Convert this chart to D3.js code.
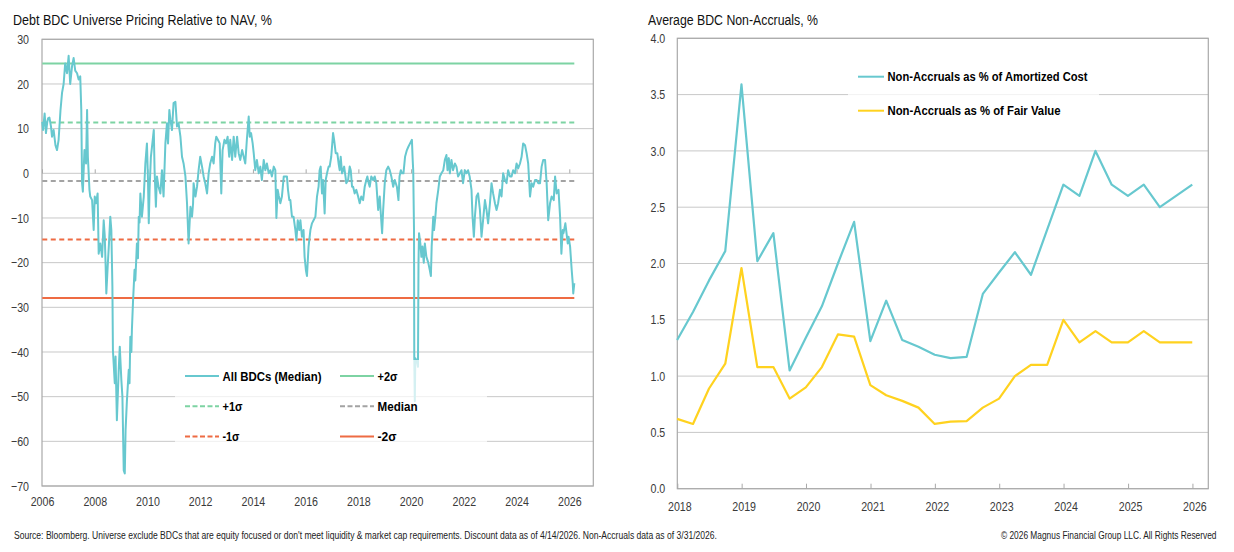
<!DOCTYPE html>
<html><head><meta charset="utf-8">
<script src="https://cdn.jsdelivr.net/npm/d3@7"></script>
<style>
body{margin:0;background:#fff}
svg{display:block}
text{font-family:"Liberation Sans",Arial,sans-serif}
</style>
</head><body>
<svg id="c" width="1234" height="552"></svg>
<script>
// ---------- Left chart data (decimal year, % premium/discount to NAV) ----------
const navDates = [2006.01,2006.04,2006.10,2006.15,2006.20,2006.23,2006.28,2006.34,2006.38,2006.44,2006.51,2006.57,2006.63,2006.70,2006.76,2006.82,2006.88,2006.95,2007.01,2007.07,2007.14,2007.20,2007.26,2007.33,2007.39,2007.45,2007.49,2007.52,2007.55,2007.61,2007.67,2007.71,2007.74,2007.80,2007.83,2007.90,2007.96,2008.00,2008.05,2008.11,2008.15,2008.21,2008.28,2008.34,2008.38,2008.41,2008.44,2008.49,2008.54,2008.59,2008.63,2008.67,2008.69,2008.76,2008.79,2008.84,2008.91,2008.95,2009.01,2009.05,2009.10,2009.14,2009.17,2009.22,2009.29,2009.32,2009.35,2009.39,2009.41,2009.45,2009.51,2009.54,2009.60,2009.64,2009.67,2009.70,2009.73,2009.79,2009.86,2009.92,2009.98,2010.02,2010.05,2010.08,2010.13,2010.20,2010.24,2010.27,2010.32,2010.36,2010.42,2010.49,2010.55,2010.61,2010.68,2010.74,2010.78,2010.83,2010.87,2010.93,2010.99,2011.06,2011.12,2011.18,2011.25,2011.31,2011.37,2011.44,2011.50,2011.56,2011.63,2011.69,2011.73,2011.75,2011.82,2011.88,2011.94,2012.00,2012.07,2012.13,2012.19,2012.26,2012.32,2012.38,2012.45,2012.51,2012.57,2012.61,2012.67,2012.74,2012.80,2012.85,2012.92,2012.98,2013.04,2013.10,2013.14,2013.21,2013.27,2013.33,2013.40,2013.46,2013.52,2013.59,2013.65,2013.71,2013.77,2013.84,2013.88,2013.93,2013.99,2014.03,2014.09,2014.15,2014.22,2014.28,2014.34,2014.41,2014.47,2014.53,2014.60,2014.66,2014.72,2014.79,2014.85,2014.89,2014.94,2014.98,2015.04,2015.10,2015.17,2015.23,2015.29,2015.33,2015.38,2015.42,2015.48,2015.54,2015.61,2015.65,2015.70,2015.76,2015.80,2015.86,2015.92,2015.96,2016.01,2016.05,2016.11,2016.18,2016.24,2016.30,2016.37,2016.43,2016.49,2016.53,2016.57,2016.62,2016.66,2016.72,2016.76,2016.81,2016.87,2016.91,2016.97,2017.04,2017.08,2017.14,2017.20,2017.25,2017.29,2017.33,2017.38,2017.42,2017.46,2017.51,2017.54,2017.61,2017.67,2017.71,2017.76,2017.80,2017.86,2017.92,2017.99,2018.05,2018.11,2018.18,2018.24,2018.30,2018.34,2018.39,2018.43,2018.49,2018.56,2018.62,2018.68,2018.75,2018.81,2018.85,2018.90,2018.94,2019.00,2019.06,2019.13,2019.19,2019.25,2019.32,2019.38,2019.46,2019.52,2019.56,2019.61,2019.65,2019.71,2019.77,2019.84,2019.90,2019.96,2020.03,2020.06,2020.08,2020.11,2020.12,2020.14,2020.16,2020.22,2020.26,2020.28,2020.30,2020.35,2020.39,2020.43,2020.48,2020.52,2020.58,2020.65,2020.71,2020.75,2020.78,2020.84,2020.87,2020.92,2020.96,2021.03,2021.09,2021.15,2021.22,2021.28,2021.34,2021.38,2021.43,2021.47,2021.53,2021.59,2021.66,2021.72,2021.78,2021.85,2021.91,2021.97,2022.04,2022.10,2022.16,2022.22,2022.29,2022.33,2022.38,2022.42,2022.48,2022.54,2022.61,2022.67,2022.73,2022.80,2022.86,2022.92,2022.99,2023.05,2023.11,2023.18,2023.24,2023.30,2023.37,2023.43,2023.49,2023.56,2023.62,2023.68,2023.75,2023.81,2023.87,2023.94,2024.00,2024.06,2024.13,2024.19,2024.25,2024.32,2024.38,2024.44,2024.51,2024.57,2024.63,2024.70,2024.76,2024.82,2024.89,2024.95,2025.01,2025.08,2025.14,2025.20,2025.27,2025.33,2025.41,2025.46,2025.52,2025.59,2025.65,2025.70,2025.75,2025.78,2025.85,2025.91,2025.94,2025.97,2026.03,2026.09,2026.13,2026.15,2026.19];
const navValues = [11.5,9.7,13.4,9.0,11.5,12.3,12.5,10.5,8.2,9.7,6.3,5.2,7.5,14.0,18.0,20.0,24.6,22.4,26.3,20.0,24.0,25.8,23.0,22.4,21.0,21.7,14.2,-2.2,-4.1,5.2,2.2,14.2,3.7,-3.7,-5.2,-6.0,-12.7,-5.2,-6.7,-4.5,-18.0,-15.7,-18.7,-10.5,-14,-20,-26.9,-21,-15.7,-9.7,-12.7,-25.4,-39.6,-47,-41,-55.3,-44,-38.8,-46.3,-50,-66.5,-67.2,-57.5,-51,-44,-47,-36.6,-40,-35,-29,-21.6,-24,-15.7,-19,-9.7,-11,-4.5,-9.7,-5.2,2.2,6.7,-1.5,-11.2,-3.7,3.7,7.5,9.7,0.7,-7.5,-0.7,-3.0,-4.5,0.7,-5.2,6.7,11.2,6.7,14.2,12.0,9.7,15.7,16.0,10.5,11.2,8.2,3.7,2.2,-0.7,-6.7,-15.7,-7.5,-9.7,-6.7,-2.2,-5.2,-3.0,0.7,3.7,1.5,-0.7,-2.2,-4.5,0.0,2.2,3.7,2.2,6.7,8.2,7.5,6.7,-4.5,5.2,7.5,6.7,8.2,3.7,7.5,3.0,8.2,3.7,8.2,4.5,3.0,5.2,3.7,2.2,7.5,12.7,8.2,9.0,6.7,4.5,0.7,3.0,0.0,1.5,-1.5,3.0,0.7,2.2,0.0,0.7,-0.7,1.5,0.7,-10.0,-3.7,-5.0,-6.7,-5.2,-0.7,-0.7,-0.7,-3.7,-6.0,-6.0,-9.7,-9.7,-12.7,-15.0,-10.5,-12.7,-10.5,-14.2,-12.7,-18.7,-21.7,-23.0,-16.4,-12.7,-11.2,-10.5,-9.7,-5.2,-3.0,0.7,1.5,-4.5,-1.5,-9.0,-1.5,0.0,1.5,1.5,3.7,9.0,7.5,4.5,4.5,2.2,0.7,3.7,0.0,0.7,1.5,-0.7,-2.2,-1.5,1.5,0.7,-3.0,-3.0,-4.5,-3.7,-5.2,-6.7,-5.2,-6.0,-3.0,-1.5,-0.7,-2.2,-3.0,-0.7,-1.5,-0.7,-2.2,-8.2,-5.2,-9.0,-13.4,-8.2,-2.2,0.7,1.5,0.7,-0.7,-3.0,-1.5,-3.0,-6.0,-0.7,0.7,0.0,0.0,3.7,5.2,6.0,6.7,7.5,3.0,0.7,-12.7,-41.4,-51,-41.4,-42,-43.3,-20,-13.4,-15.7,-18.7,-16.4,-20.0,-15.7,-18.7,-20.0,-21.7,-23.0,-16.4,-9.7,-12.7,-9.7,-6.7,-3.7,-0.7,0.0,0.7,3.0,4.1,0.7,3.4,0.0,3.0,0.7,2.2,1.5,-0.7,0.0,0.7,-2.2,0.7,0.0,0.7,-0.7,-3.7,-9.7,-14.2,-9.7,-5.2,-4.5,-8.2,-14.2,-10.5,-6.0,-8.2,-11.2,-6.7,-2.2,-4.5,-6.7,-8.2,-6.7,-3.7,-5.2,0.0,-1.5,-2.2,0.7,-0.7,-0.7,0.7,0.0,2.2,1.1,2.2,3.7,6.7,6.3,4.5,2.2,-5.2,-2.2,-3.0,-1.5,-1.5,-2.2,-2.2,1.5,3.0,3.0,-2.2,-10.5,-6.7,-5.2,-6.0,-0.7,-4.5,-3.7,-9.7,-18.0,-12.7,-13.4,-11.2,-14.2,-15.7,-14.2,-16.4,-21.6,-24.6,-26.9,-24.6];

const bandNames  = ["+2σ", "+1σ", "Median", "-1σ", "-2σ"];
const bandValues = [24.6, 11.4, -1.7, -14.8, -27.9];
const leftYTicks = [30,20,10,0,-10,-20,-30,-40,-50,-60,-70];
const leftXTicks = [2006,2008,2010,2012,2014,2016,2018,2020,2022,2024,2026];

// ---------- Right chart data (quarter ends) ----------
const naDates = ["2017-12-31","2018-03-31","2018-06-30","2018-09-30","2018-12-31","2019-03-31","2019-06-30","2019-09-30","2019-12-31","2020-03-31","2020-06-30","2020-09-30","2020-12-31","2021-03-31","2021-06-30","2021-09-30","2021-12-31","2022-03-31","2022-06-30","2022-09-30","2022-12-31","2023-03-31","2023-06-30","2023-09-30","2023-12-31","2024-03-31","2024-06-30","2024-09-30","2024-12-31","2025-03-31","2025-06-30","2025-09-30","2025-12-31"];
const naCost = [1.32,1.57,1.85,2.11,3.59,2.02,2.27,1.05,1.34,1.62,2.00,2.37,1.31,1.67,1.32,1.26,1.19,1.16,1.17,1.73,1.92,2.10,1.90,2.30,2.70,2.60,3.00,2.70,2.60,2.70,2.50,2.60,2.70];
const naFair = [0.62,0.575,0.89,1.11,1.96,1.08,1.08,0.80,0.90,1.08,1.37,1.35,0.92,0.83,0.78,0.72,0.575,0.595,0.60,0.72,0.80,1.00,1.10,1.10,1.50,1.30,1.40,1.30,1.30,1.40,1.30,1.30,1.30];
const rightYTicks = [0,0.5,1,1.5,2,2.5,3,3.5,4];
const rightXTicks = [2018,2019,2020,2021,2022,2023,2024,2025,2026];

const TEAL = "#67C8CF", GREEN = "#7DD3A3", RED = "#EE6B43", GREY = "#A3A3A3", YELLOW = "#FFD21F";
const GRID = "#C8C8C8", FRAME = "#A9A9A9", LABEL = "#3a3a3a";
const NARROW = 0.82;

const svg = d3.select("#c");

function fitText(g, x, y, str, size, len, weight, anchor) {
  return g.append("text").attr("x", x).attr("y", y).attr("font-size", size)
    .attr("font-weight", weight || "normal").attr("text-anchor", anchor || "start")
    .attr("textLength", len).attr("lengthAdjust", "spacingAndGlyphs").attr("fill", "#111").text(str);
}
function narrowText(g, x, y, str, size, anchor) {
  return g.append("text").attr("transform", `translate(${x},${y}) scale(${NARROW},1)`)
    .attr("font-size", size).attr("text-anchor", anchor || "start").attr("fill", "#222").text(str);
}
function narrowAxisText(sel, size) {
  sel.selectAll("text").each(function () {
    const s = d3.select(this);
    const x = +s.attr("x") || 0, y = +s.attr("y") || 0;
    s.attr("x", null).attr("y", null)
     .attr("transform", `translate(${x},${y}) scale(${NARROW},1)`)
     .attr("font-size", size).attr("fill", LABEL).style("font-family", null);
  });
}

// ================= LEFT =================
const L = {x0:42, x1:593.3, y0:39.3, y1:486};
const xL = d3.scaleLinear().domain([2006, 2026.91]).range([L.x0, L.x1]);
const yL = d3.scaleLinear().domain([-70, 30]).range([L.y1, L.y0]);
const gL = svg.append("g");

fitText(gL, 13, 25, "Debt BDC Universe Pricing Relative to NAV, %", 14, 259);

gL.selectAll("line.grid").data(leftYTicks).join("line")
  .attr("x1", L.x0).attr("x2", L.x1).attr("y1", d => yL(d)).attr("y2", d => yL(d))
  .attr("stroke", GRID).attr("stroke-width", 1);
gL.append("rect").attr("x", L.x0).attr("y", L.y0).attr("width", L.x1 - L.x0).attr("height", L.y1 - L.y0)
  .attr("fill", "none").attr("stroke", FRAME).attr("stroke-width", 1.2);

const yAxL = gL.append("g").attr("transform", `translate(${L.x0},0)`)
  .call(d3.axisLeft(yL).tickValues(leftYTicks).tickSize(0).tickPadding(13));
yAxL.select(".domain").remove();
narrowAxisText(yAxL, 13);

const zAx = gL.append("g").attr("transform", `translate(0,${yL(0)})`)
  .call(d3.axisTop(xL).tickValues(leftXTicks).tickSize(4).tickFormat(""));
zAx.select(".domain").remove();
zAx.selectAll("line").attr("stroke", FRAME);

const xAxL = gL.append("g").attr("transform", `translate(0,${L.y1})`)
  .call(d3.axisBottom(xL).tickValues(leftXTicks).tickSize(0).tickPadding(11).tickFormat(d3.format("d")));
xAxL.select(".domain").remove();
narrowAxisText(xAxL, 13);

const bandColor = [GREEN, GREEN, GREY, RED, RED];
const bandDash  = [null, "5,3.5", "5,3.5", "5,3.5", null];
const xStart = navDates[0], xEnd = navDates[navDates.length - 1];
bandValues.forEach((v, i) => {
  gL.append("line").attr("x1", xL(xStart)).attr("x2", xL(xEnd)).attr("y1", yL(v)).attr("y2", yL(v))
    .attr("stroke", bandColor[i]).attr("stroke-width", 2).attr("stroke-dasharray", bandDash[i]);
});

const navLine = d3.line().x((d, i) => xL(navDates[i])).y(d => yL(d));
gL.append("path").datum(navValues).attr("d", navLine).attr("fill", "none")
  .attr("stroke", TEAL).attr("stroke-width", 2).attr("stroke-linejoin", "round");

gL.append("rect").attr("x", 175).attr("y", 360).attr("width", 312).attr("height", 98)
  .attr("fill", "#fff").attr("opacity", 0.72);
const legL = [
  {name:"All BDCs (Median)", c:TEAL, dash:null, col:0, row:0, w:99},
  {name:bandNames[0], c:GREEN, dash:null, col:1, row:0, w:20},
  {name:bandNames[1], c:GREEN, dash:"5,2.5", col:0, row:1, w:20},
  {name:bandNames[2], c:GREY, dash:"5,2.5", col:1, row:1, w:40},
  {name:bandNames[3], c:RED, dash:"5,2.5", col:0, row:2, w:17},
  {name:bandNames[4], c:RED, dash:null, col:1, row:2, w:19}
];
legL.forEach(d => {
  const lx = d.col === 0 ? 185 : 340, ly = 376 + d.row * 30.3;
  gL.append("line").attr("x1", lx).attr("x2", lx + 34).attr("y1", ly).attr("y2", ly)
    .attr("stroke", d.c).attr("stroke-width", 2).attr("stroke-dasharray", d.dash);
  fitText(gL, lx + 37.5, ly + 4.7, d.name, 13.5, d.w, "bold").attr("fill", "#000");
});

// ================= RIGHT =================
const R = {x0:677.3, x1:1208.3, y0:38.3, y1:488.7};
const xR = d3.scaleUtc().domain([Date.UTC(2018,0,1), Date.UTC(2026,3,1)]).range([R.x0, R.x1]);
const yR = d3.scaleLinear().domain([0, 4]).range([R.y1, R.y0]);
const gR = svg.append("g");
const parse = d3.utcParse("%Y-%m-%d");
const naT = naDates.map(parse);

fitText(gR, 648, 25, "Average BDC Non-Accruals, %", 14, 170);

gR.selectAll("line.grid").data(rightYTicks).join("line")
  .attr("x1", R.x0).attr("x2", R.x1).attr("y1", d => yR(d)).attr("y2", d => yR(d))
  .attr("stroke", GRID).attr("stroke-width", 1);
gR.append("rect").attr("x", R.x0).attr("y", R.y0).attr("width", R.x1 - R.x0).attr("height", R.y1 - R.y0)
  .attr("fill", "none").attr("stroke", FRAME).attr("stroke-width", 1.2);

const yAxR = gR.append("g").attr("transform", `translate(${R.x0},0)`)
  .call(d3.axisLeft(yR).tickValues(rightYTicks).tickSize(0).tickPadding(12).tickFormat(d3.format(".1f")));
yAxR.select(".domain").remove();
narrowAxisText(yAxR, 13);

const yearDates = rightXTicks.map(y => new Date(Date.UTC(y,0,1)));
const xAxR = gR.append("g").attr("transform", `translate(0,${R.y1})`)
  .call(d3.axisTop(xR).tickValues(yearDates).tickSize(5).tickFormat(""));
xAxR.select(".domain").remove();
xAxR.selectAll("line").attr("stroke", FRAME);
const xLabR = gR.append("g").attr("transform", `translate(2,${R.y1})`)
  .call(d3.axisBottom(xR).tickValues(yearDates).tickSize(0).tickPadding(13).tickFormat(d3.utcFormat("%Y")));
xLabR.select(".domain").remove();
narrowAxisText(xLabR, 13);

const naLine = d3.line().x((d, i) => xR(naT[i])).y(d => yR(d));
gR.append("path").datum(naFair).attr("d", naLine).attr("fill", "none")
  .attr("stroke", YELLOW).attr("stroke-width", 2.2).attr("stroke-linejoin", "round");
gR.append("path").datum(naCost).attr("d", naLine).attr("fill", "none")
  .attr("stroke", TEAL).attr("stroke-width", 2.2).attr("stroke-linejoin", "round");

gR.append("rect").attr("x", 848).attr("y", 58).attr("width", 251).attr("height", 70)
  .attr("fill", "#fff").attr("opacity", 0.75);
const legR = [
  {name:"Non-Accruals as % of Amortized Cost", c:TEAL, w:200},
  {name:"Non-Accruals as % of Fair Value", c:YELLOW, w:173}
];
legR.forEach((d, i) => {
  const ly = 76.7 + i * 34;
  gR.append("line").attr("x1", 858).attr("x2", 884).attr("y1", ly).attr("y2", ly)
    .attr("stroke", d.c).attr("stroke-width", 2);
  fitText(gR, 887.5, ly + 4.7, d.name, 13.5, d.w, "bold").attr("fill", "#000");
});

// ================= FOOTER =================
fitText(svg, 14, 539, "Source: Bloomberg. Universe exclude BDCs that are equity focused or don't meet liquidity & market cap requirements. Discount data as of 4/14/2026. Non-Accruals data as of 3/31/2026.", 10, 703).attr("fill", "#222");
narrowText(svg, 1216.5, 539, "© 2026 Magnus Financial Group LLC. All Rights Reserved", 10.2, "end");
</script>
</body></html>
